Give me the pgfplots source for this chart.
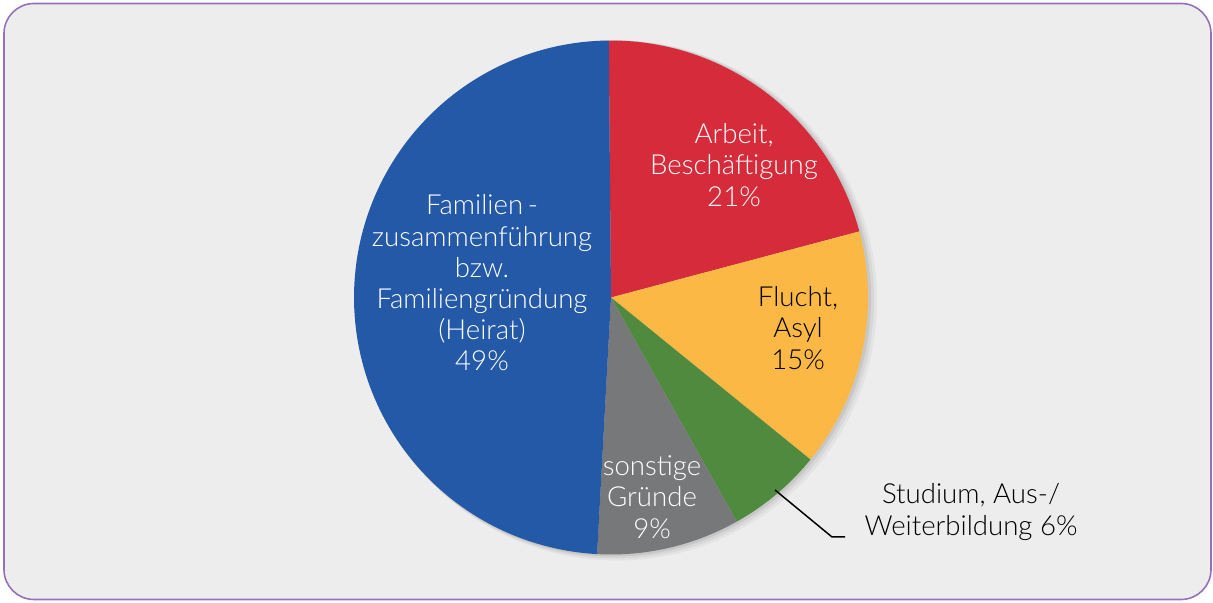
\documentclass[border=0pt]{standalone}
\usepackage{pgfplots}
\pgfplotsset{compat=1.18}
\usepackage{fontspec}
\setmainfont{Lato Light}
\definecolor{bgc}{HTML}{EDEDED}
\definecolor{framec}{HTML}{9670B8}
\definecolor{cA}{HTML}{D62B3A}
\definecolor{cB}{HTML}{FBB844}
\definecolor{cC}{HTML}{508A3E}
\definecolor{cD}{HTML}{76787A}
\definecolor{cE}{HTML}{2459A8}
% shares in percent (clockwise from top)
\def\pA{21}% Arbeit
\def\pB{15}% Flucht
\def\pC{6}%  Studium
\def\pD{9}%  sonstige
\def\pE{49}% Familien
\def\cx{611}\def\cy{305.5}\def\R{257}
\pgfmathsetmacro\aA{90.5}
\pgfmathsetmacro\aB{\aA-3.6*\pA}
\pgfmathsetmacro\aC{\aB-3.6*\pB}
\pgfmathsetmacro\aD{\aC-3.6*\pC}
\pgfmathsetmacro\aE{\aD-3.6*\pD}
\pgfmathsetmacro\aF{\aE-3.6*\pE}
\tikzset{lbl/.style={font=\fontsize{13.8}{15.6}\selectfont, align=center, inner sep=0pt}}
\begin{document}
\begin{tikzpicture}
\begin{axis}[
  width=606.5pt, height=301.5pt, scale only axis,
  xmin=0, xmax=1213, ymin=0, ymax=603,
  hide axis, clip=false,
]
% background panel
\fill[bgc, draw=framec, line width=0.8pt, rounded corners=15pt]
  (axis cs:4,3.5) rectangle (axis cs:1211,599.5);
% soft shadow (lower right)
\fill[black, opacity=0.04] (axis cs:\cx+6,\cy-3) circle[radius=130pt];
\fill[black, opacity=0.05] (axis cs:\cx+4,\cy-2) circle[radius=129.5pt];
\fill[black, opacity=0.07] (axis cs:\cx+2,\cy-1) circle[radius=129pt];
% slices
\addplot[fill=cA, draw=none, domain=\aB:\aA, samples=60, variable=\t]
  ({\cx+\R*cos(\t)}, {\cy+\R*sin(\t)}) -- (axis cs:\cx,\cy) -- cycle;
\addplot[fill=cB, draw=none, domain=\aC:\aB, samples=50, variable=\t]
  ({\cx+\R*cos(\t)}, {\cy+\R*sin(\t)}) -- (axis cs:\cx,\cy) -- cycle;
\addplot[fill=cC, draw=none, domain=\aD:\aC, samples=30, variable=\t]
  ({\cx+\R*cos(\t)}, {\cy+\R*sin(\t)}) -- (axis cs:\cx,\cy) -- cycle;
\addplot[fill=cD, draw=none, domain=\aE:\aD, samples=30, variable=\t]
  ({\cx+\R*cos(\t)}, {\cy+\R*sin(\t)}) -- (axis cs:\cx,\cy) -- cycle;
\addplot[fill=cE, draw=none, domain=\aF:\aE, samples=120, variable=\t]
  ({\cx+\R*cos(\t)}, {\cy+\R*sin(\t)}) -- (axis cs:\cx,\cy) -- cycle;
% labels
\node[lbl, white] at (axis cs:734,438) {Arbeit,\\Beschäftigung\\21\%};
\node[lbl, black] at (axis cs:798,275) {Flucht,\\Asyl\\15\%};
\node[lbl, white] at (axis cs:482,320) {Familien\,-\\zusammenführung\\bzw.\\Familiengründung\\(Heirat)\\49\%};
\node[lbl, white] at (axis cs:652,106) {sonstige\\Gründe\\9\%};
\node[lbl, black] at (axis cs:971,91) {Studium, Aus-/\\Weiterbildung 6\%};
\draw[black, line width=0.75pt] (axis cs:775,113) -- (axis cs:832,66) -- (axis cs:845,66);
\end{axis}
\pgfresetboundingbox
\useasboundingbox (current axis.south west) rectangle (current axis.north east);
\end{tikzpicture}
\end{document}
